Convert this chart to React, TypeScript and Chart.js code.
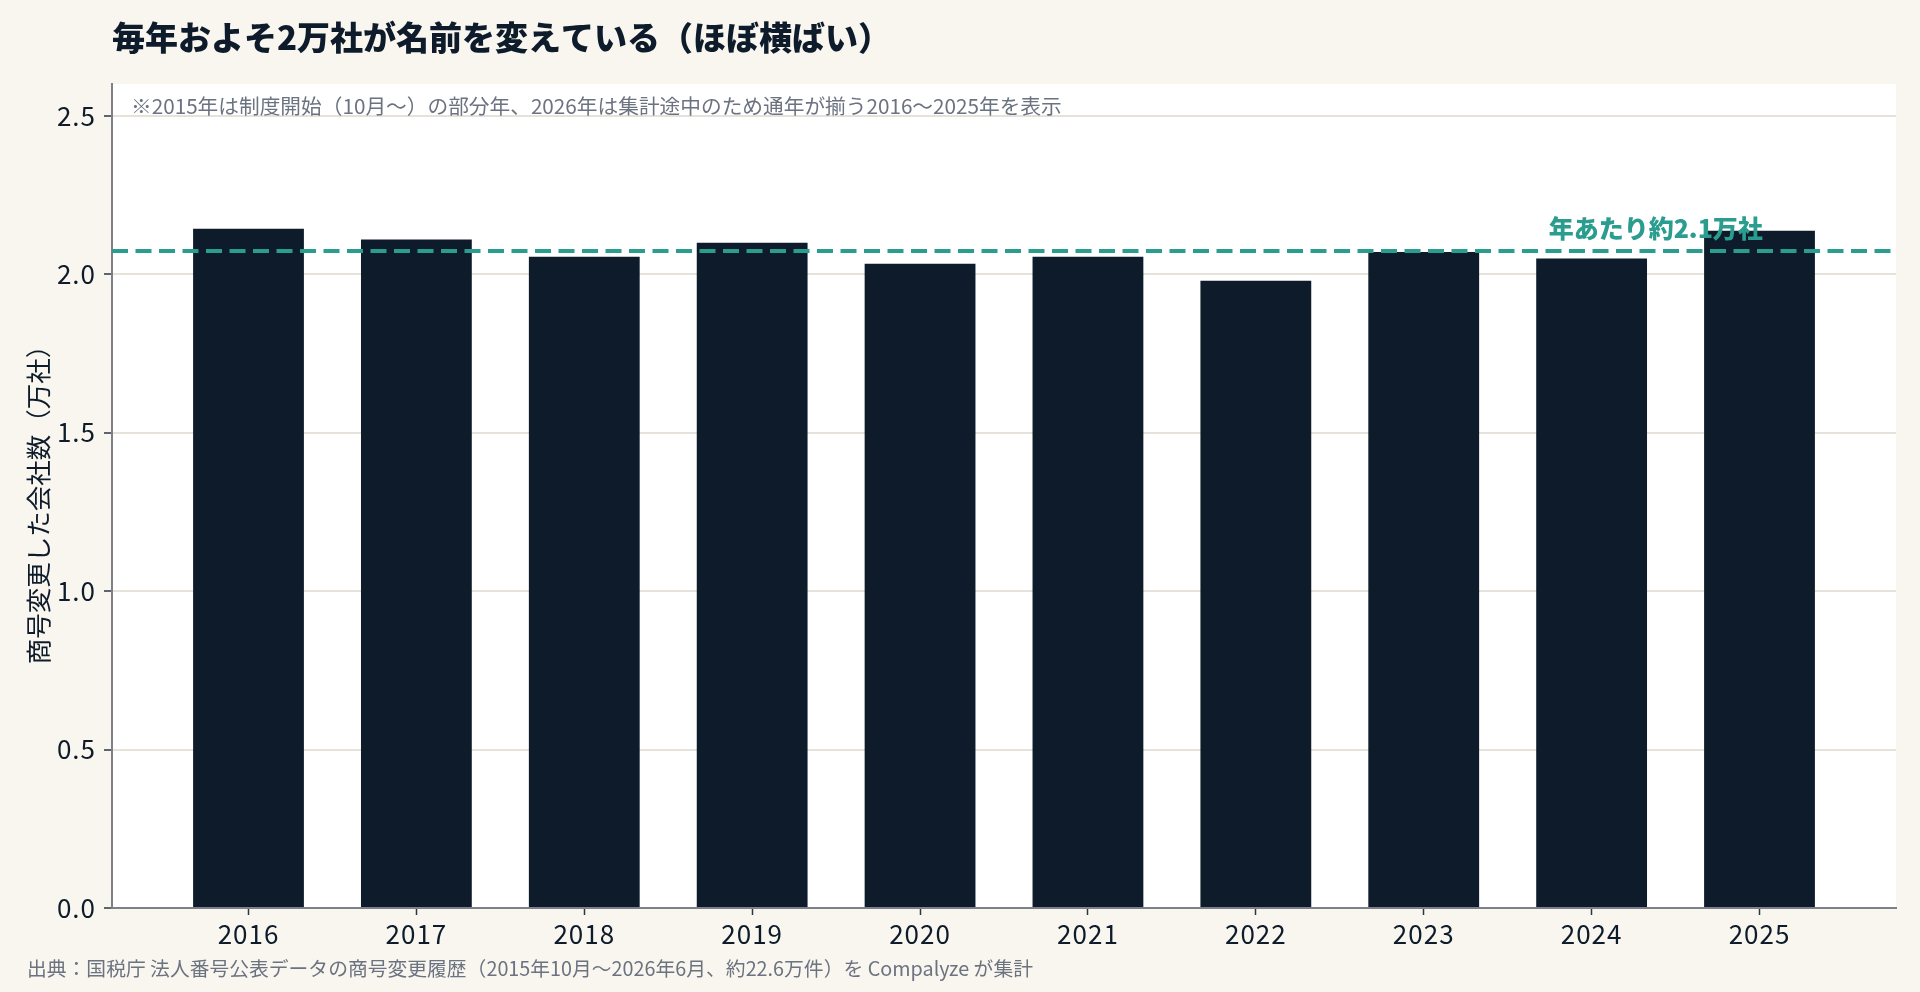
import React, { useEffect, useRef } from 'react';
import { Chart, registerables } from 'chart.js';

Chart.register(...registerables);

// ---- data ----
const YEARS = ['2016', '2017', '2018', '2019', '2020', '2021', '2022', '2023', '2024', '2025'];
const COMPANIES_MAN = [2.143, 2.109, 2.055, 2.099, 2.033, 2.055, 1.979, 2.07, 2.049, 2.137];
const Y_TICKS = [0, 0.5, 1.0, 1.5, 2.0, 2.5];
const AVERAGE = COMPANIES_MAN.reduce((s, v) => s + v, 0) / COMPANIES_MAN.length;

// ---- text ----
const TITLE = '毎年およそ2万社が名前を変えている（ほぼ横ばい）';
const NOTE = '※2015年は制度開始（10月～）の部分年、2026年は集計途中のため通年が揃う2016～2025年を表示';
const SOURCE = '出典：国税庁 法人番号公表データの商号変更履歴（2015年10月～2026年6月、約22.6万件）を Compalyze が集計';
const Y_TITLE = '商号変更した会社数（万社）';
const AVG_LABEL = '年あたり約2.1万社';

// ---- style ----
const FONT = '"Noto Sans CJK JP", "Noto Sans", sans-serif';
const BG = '#f9f6ef';
const NAVY = '#0d1b2a';
const TEAL = '#2a9d8f';
const GRAY_TEXT = '#6b7280';
const GRID = '#e6e2d9';
const SPINE = '#7c8189';

const decor = {
  id: 'decor',
  beforeDraw(chart: any) {
    const { ctx, chartArea: a } = chart;
    ctx.save();
    ctx.fillStyle = BG;
    ctx.fillRect(0, 0, chart.width, chart.height);
    ctx.fillStyle = '#ffffff';
    ctx.fillRect(a.left, a.top, a.right - a.left, a.bottom - a.top);
    ctx.restore();
    // slightly wider digits for axis tick labels
    ctx.letterSpacing = '1px';
  },
  beforeDatasetsDraw(chart: any) {
    chart.ctx.letterSpacing = '0px';
  },
  afterDatasetsDraw(chart: any) {
    const { ctx, chartArea: a, scales } = chart;
    const y = scales.y;
    const x = scales.x;
    const yp = y.getPixelForValue(AVERAGE);
    ctx.save();
    ctx.letterSpacing = '0px';
    ctx.beginPath();
    ctx.setLineDash([16, 7.5]);
    ctx.strokeStyle = TEAL;
    ctx.lineWidth = 4;
    ctx.moveTo(a.left, yp);
    ctx.lineTo(a.right, yp);
    ctx.stroke();
    ctx.setLineDash([]);
    ctx.font = `900 25px ${FONT}`;
    ctx.fillStyle = TEAL;
    ctx.textAlign = 'right';
    ctx.textBaseline = 'middle';
    ctx.fillText(AVG_LABEL, x.getPixelForValue(9.02), y.getPixelForValue(AVERAGE + 0.07));
    ctx.restore();
  },
  afterDraw(chart: any) {
    const { ctx } = chart;
    ctx.save();
    ctx.letterSpacing = '0px';
    ctx.textBaseline = 'middle';
    ctx.textAlign = 'left';
    ctx.fillStyle = NAVY;
    ctx.font = `900 33px ${FONT}`;
    ctx.fillText(TITLE, 112, 37);
    ctx.fillStyle = GRAY_TEXT;
    ctx.font = `20.7px ${FONT}`;
    ctx.fillText(NOTE, 131, 106);
    ctx.font = `19.8px ${FONT}`;
    ctx.fillText(SOURCE, 27, 968);
    ctx.translate(38, 498.5);
    ctx.rotate(-Math.PI / 2);
    ctx.textAlign = 'center';
    ctx.fillStyle = NAVY;
    ctx.font = `25.5px ${FONT}`;
    ctx.fillText(Y_TITLE, 0, 0);
    ctx.restore();
  },
};

export default function App() {
  const ref = useRef<HTMLCanvasElement>(null);
  useEffect(() => {
    document.body.style.margin = '0';
    const chart = new Chart(ref.current as HTMLCanvasElement, {
      type: 'bar',
      data: {
        datasets: [
          {
            data: COMPANIES_MAN.map((v, i) => ({ x: i, y: v })),
            backgroundColor: NAVY,
            borderWidth: 0,
            barPercentage: 0.66,
            categoryPercentage: 1,
          },
        ],
      },
      options: {
        animation: false,
        responsive: false,
        devicePixelRatio: 1,
        layout: { padding: { top: 84, right: 24, left: 0, bottom: 0 } },
        plugins: { legend: { display: false }, tooltip: { enabled: false }, title: { display: false } },
        scales: {
          x: {
            type: 'linear',
            offset: false,
            min: -0.813,
            max: 9.813,
            afterBuildTicks: (axis: any) => {
              axis.ticks = YEARS.map((_, i) => ({ value: i }));
            },
            afterFit: (axis: any) => {
              axis.height = 84;
            },
            ticks: {
              callback: (v: any) => YEARS[Math.round(Number(v))] ?? '',
              color: NAVY,
              font: { family: FONT, size: 26 },
              padding: 4,
              maxRotation: 0,
              autoSkip: false,
            },
            grid: {
              offset: false,
              drawOnChartArea: false,
              drawTicks: true,
              tickLength: 7,
              tickColor: '#2b3440',
              tickWidth: 1.5,
            },
            border: { display: true, color: SPINE, width: 2 },
          },
          y: {
            type: 'linear',
            min: 0,
            max: 2.6,
            afterBuildTicks: (axis: any) => {
              axis.ticks = Y_TICKS.map((v) => ({ value: v }));
            },
            afterFit: (axis: any) => {
              axis.width = 112;
            },
            ticks: {
              callback: (v: any) => Number(v).toFixed(1),
              color: NAVY,
              font: { family: FONT, size: 26 },
              padding: 8,
            },
            grid: {
              color: GRID,
              lineWidth: 2,
              tickLength: 8,
              tickColor: '#2b3440',
              tickWidth: 1.5,
            },
            border: { display: true, color: SPINE, width: 2 },
          },
        },
      },
      plugins: [decor],
    } as any);
    return () => chart.destroy();
  }, []);
  return (
    <div style={{ position: 'fixed', left: 0, top: 0, width: 1920, height: 992, background: BG }}>
      <canvas ref={ref} width={1920} height={992} style={{ display: 'block' }} />
    </div>
  );
}
